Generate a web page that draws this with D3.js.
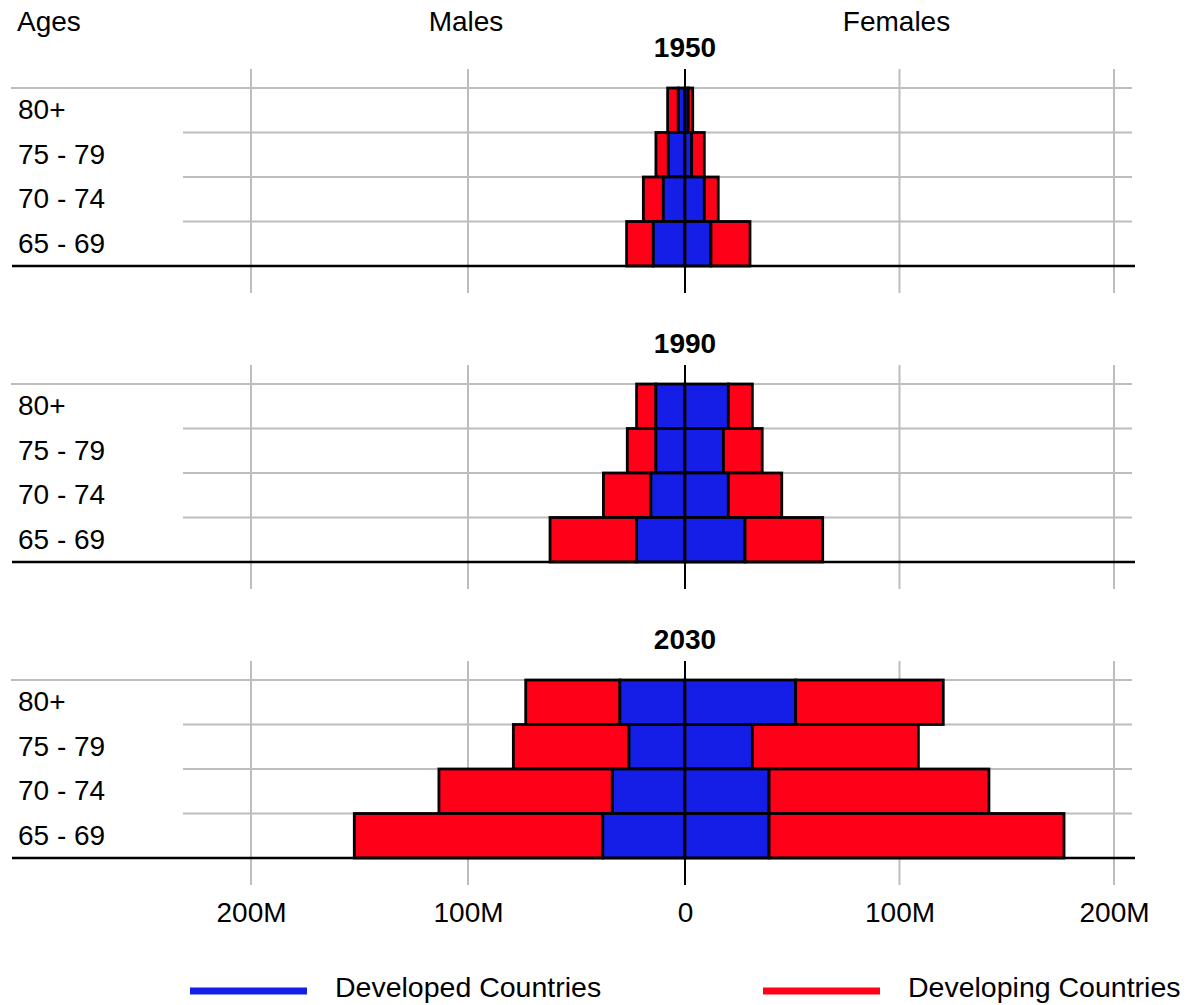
<!DOCTYPE html>
<html>
<head>
<meta charset="utf-8">
<script src="https://cdn.jsdelivr.net/npm/d3@7"></script>
<style>
  html, body { margin: 0; padding: 0; background: #fff; }
  svg { display: block; font-family: "Liberation Sans", Arial, Helvetica, sans-serif; }
</style>
</head>
<body>
<svg id="chart" width="1187" height="1005"></svg>
<script>
// ---------- data (millions) ----------
const ages = ["80+", "75 - 79", "70 - 74", "65 - 69"];
const years = ["1950", "1990", "2030"];
const tickValues = [-200, -100, 0, 100, 200];
const tickLabels = ["200M", "100M", "0", "100M", "200M"];
const seriesNames = ["Developed Countries", "Developing Countries"];

const maleDeveloped1950   = [3.1, 7.7, 10.0, 14.6];
const maleDeveloping1950  = [4.9, 5.7, 9.2, 12.3];
const femaleDeveloped1950 = [1.5, 3.1, 9.0, 12.1];
const femaleDeveloping1950= [2.1, 5.9, 6.5, 18.2];

const maleDeveloped1990   = [13.4, 13.4, 15.7, 22.3];
const maleDeveloping1990  = [8.9, 13.2, 21.9, 39.9];
const femaleDeveloped1990 = [20.2, 17.9, 20.2, 28.0];
const femaleDeveloping1990= [11.2, 18.1, 24.9, 36.2];

const maleDeveloped2030   = [30.0, 25.8, 33.5, 37.9];
const maleDeveloping2030  = [43.4, 53.3, 79.9, 114.5];
const femaleDeveloped2030 = [51.6, 31.4, 39.2, 39.2];
const femaleDeveloping2030= [68.8, 77.4, 102.5, 137.5];

const panels = [
  { year: years[0], mDev: maleDeveloped1950, mDvg: maleDeveloping1950, fDev: femaleDeveloped1950, fDvg: femaleDeveloping1950 },
  { year: years[1], mDev: maleDeveloped1990, mDvg: maleDeveloping1990, fDev: femaleDeveloped1990, fDvg: femaleDeveloping1990 },
  { year: years[2], mDev: maleDeveloped2030, mDvg: maleDeveloping2030, fDev: femaleDeveloped2030, fDvg: femaleDeveloping2030 }
];

// ---------- styles ----------
const BLUE = "#141ee6", RED = "#ff0019", GRID = "#bdbdbd";
const FS = 28;

const svg = d3.select("#chart");
const x = d3.scaleLinear().domain([-200, 0, 200]).range([251, 685, 1114]);
const panelTop = d3.scaleBand().domain(years).range([88, 88 + 296 * 3]).paddingInner(0);
const panelH = 178;

// header texts
svg.append("text").attr("x", 17).attr("y", 31).attr("font-size", FS).text("Ages");
svg.append("text").attr("x", x(-100) - 2).attr("y", 31).attr("text-anchor", "middle").attr("font-size", FS).text("Males");
svg.append("text").attr("x", x(100) - 3).attr("y", 31).attr("text-anchor", "middle").attr("font-size", FS).text("Females");

panels.forEach(p => {
  const top = panelTop(p.year);
  const y = d3.scaleBand().domain(ages).range([top, top + panelH]).paddingInner(0);
  const g = svg.append("g");

  // title
  g.append("text").attr("x", x(0)).attr("y", top - 31).attr("text-anchor", "middle")
    .attr("font-size", FS).attr("font-weight", "bold").text(p.year);

  // vertical grid
  g.selectAll(".vg").data(tickValues.filter(d => d !== 0)).join("line")
    .attr("x1", d => x(d)).attr("x2", d => x(d))
    .attr("y1", top - 19).attr("y2", top + panelH + 27)
    .attr("stroke", GRID).attr("stroke-width", 2);

  // horizontal grid lines (top of each row)
  g.selectAll(".hg").data(ages).join("line")
    .attr("x1", (d, i) => i === 0 ? 11 : 183).attr("x2", 1132)
    .attr("y1", d => y(d)).attr("y2", d => y(d))
    .attr("stroke", GRID).attr("stroke-width", 2);

  // bars
  const rows = ages.map((a, i) => ({ age: a, mDev: p.mDev[i], mDvg: p.mDvg[i], fDev: p.fDev[i], fDvg: p.fDvg[i] }));
  const segs = [];
  rows.forEach(r => {
    segs.push({ age: r.age, x0: -r.mDev - r.mDvg, x1: -r.mDev, c: RED });
    segs.push({ age: r.age, x0: -r.mDev, x1: 0, c: BLUE });
    segs.push({ age: r.age, x0: 0, x1: r.fDev, c: BLUE });
    segs.push({ age: r.age, x0: r.fDev, x1: r.fDev + r.fDvg, c: RED });
  });
  g.selectAll(".bar").data(segs).join("rect")
    .attr("x", d => x(d.x0)).attr("width", d => x(d.x1) - x(d.x0))
    .attr("y", d => y(d.age)).attr("height", y.bandwidth())
    .attr("fill", d => d.c).attr("stroke", "#000").attr("stroke-width", 2.8);

  // age labels
  g.selectAll(".al").data(ages).join("text")
    .attr("x", 18).attr("y", d => y(d) + y.bandwidth() / 2 + 9)
    .attr("font-size", FS).text(d => d);

  // center line
  g.append("line").attr("x1", x(0)).attr("x2", x(0))
    .attr("y1", top - 19).attr("y2", top + panelH + 27)
    .attr("stroke", "#000").attr("stroke-width", 2);

  // baseline
  g.append("line").attr("x1", 12).attr("x2", 1135)
    .attr("y1", top + panelH).attr("y2", top + panelH)
    .attr("stroke", "#000").attr("stroke-width", 2.5);
});

// x axis tick labels
const axis = d3.axisBottom(x).tickValues(tickValues).tickFormat((d, i) => tickLabels[i]).tickSize(0).tickPadding(0);
const ag = svg.append("g").attr("transform", "translate(0,901)").call(axis);
ag.select(".domain").remove();
ag.selectAll("text").attr("font-size", FS).attr("fill", "#000")
  .attr("font-family", "Liberation Sans, Arial, sans-serif").attr("dy", "0.76em");

// legend
const legX = [190, 763];
const lg = svg.selectAll(".leg").data(seriesNames).join("g")
  .attr("transform", (d, i) => `translate(${legX[i]},991)`);
lg.append("line").attr("x1", 0).attr("x2", 117).attr("y1", 0).attr("y2", 0)
  .attr("stroke", (d, i) => i === 0 ? BLUE : RED).attr("stroke-width", 7);
lg.append("text").attr("x", 145).attr("y", 6).attr("font-size", 28.5).text(d => d);
</script>
</body>
</html>
